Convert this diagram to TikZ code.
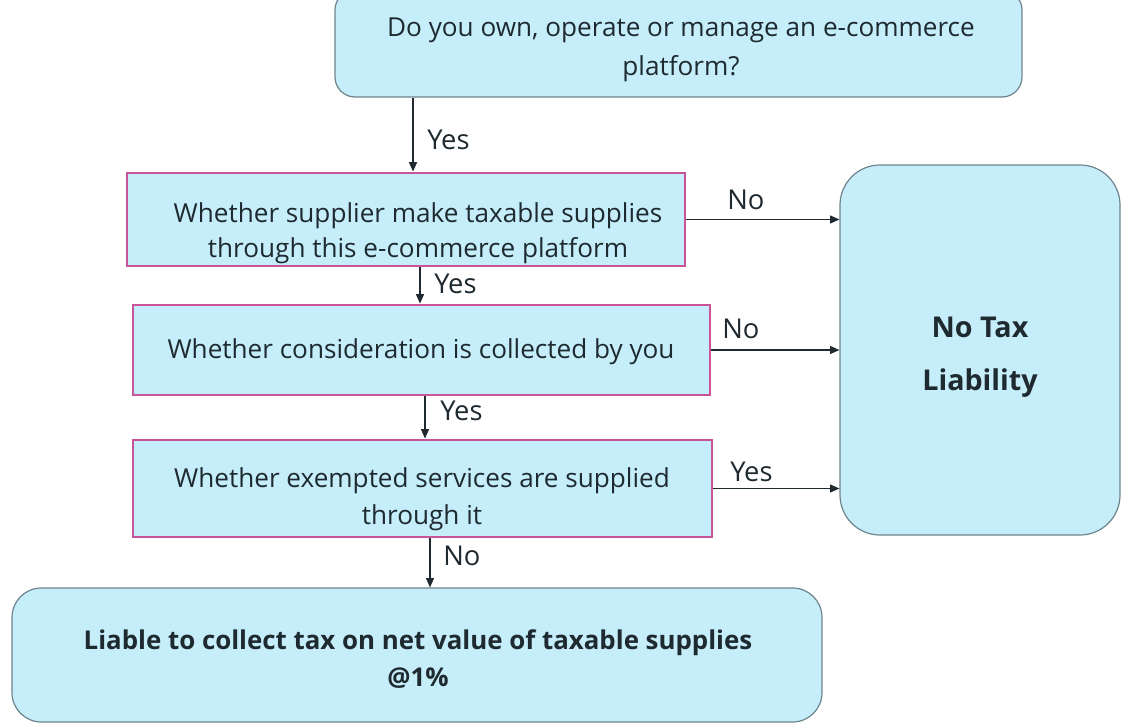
\documentclass[tikz,border=0pt]{standalone}
\usepackage{fontspec}
\setmainfont{Open Sans}
\usetikzlibrary{arrows.meta}
\definecolor{boxfill}{HTML}{C5EEFA}
\definecolor{greyline}{HTML}{6E848C}
\definecolor{pinkline}{HTML}{C9549A}
\definecolor{inkc}{HTML}{1E2A30}
\begin{document}
\begin{tikzpicture}[x=0.75pt,y=-0.75pt,
  txt/.style={font=\fontsize{19.6}{28}\selectfont, text=inkc, align=center, inner sep=0pt},
  boldtxt/.style={txt, font=\fontsize{19.4}{28}\selectfont\bfseries},
  roundbox/.style={draw=greyline, fill=boxfill, line width=0.9pt},
  pinkbox/.style={draw=pinkline, fill=boxfill, line width=2.2pt},
  arr/.style={-{Triangle[length=7pt,width=6pt]}, line width=0.8pt, draw=inkc},
  lbl/.style={font=\fontsize{20.5}{22}\selectfont, text=inkc, anchor=west, inner sep=0pt}]
\useasboundingbox (0,0) rectangle (1124,724);
\fill[white] (0,0) rectangle (1124,724);

% boxes
\node[roundbox, rounded corners=15pt, minimum width=515.25pt, minimum height=80.25pt] (q0) at (678.5,43.5) {};
\node[txt, font=\fontsize{19.6}{29}\selectfont] (q0t) at (681,50) {Do you own, operate or manage an e-commerce\\platform?};

\node[pinkbox, minimum width=418.5pt, minimum height=69.75pt] (q1) at (406,219.5) {};
\node[txt, font=\fontsize{19.6}{26}\selectfont] (q1t) at (418,233) {Whether supplier make taxable supplies\\through this e-commerce platform};

\node[pinkbox, minimum width=432.75pt, minimum height=67.5pt] (q2) at (421.5,350) {};
\node[txt] (q2t) at (421,352) {Whether consideration is collected by you};

\node[pinkbox, minimum width=434.25pt, minimum height=72.75pt] (q3) at (422.5,488.5) {};
\node[txt] (q3t) at (422,499) {Whether exempted services are supplied\\through it};

\node[roundbox, rounded corners=30pt, minimum width=210pt, minimum height=277.5pt] (nt) at (980,350) {};
\node[boldtxt, font=\fontsize{21.5}{40}\selectfont\bfseries] (ntt) at (980,357) {No Tax\\Liability};

\node[roundbox, rounded corners=22pt, minimum width=607.5pt, minimum height=100.5pt] (res) at (417,655) {};
\node[boldtxt] (rest) at (418,659) {Liable to collect tax on net value of taxable supplies\\@1\%};

% helper coordinates for vertical connectors
\coordinate (x1) at (413,0);
\coordinate (x2) at (420,0);
\coordinate (x3) at (425,0);
\coordinate (x4) at (430,0);

% vertical connectors
\draw[arr] (q0.south -| x1) -- (q1.north -| x1);
\draw[arr] (q1.south -| x2) -- (q2.north -| x2);
\draw[arr] (q2.south -| x3) -- (q3.north -| x3);
\draw[arr] (q3.south -| x4) -- (res.north -| x4);

% horizontal connectors
\draw[arr] (q1.east) -- (q1.east -| nt.west);
\draw[arr] (q2.east) -- (q2.east -| nt.west);
\draw[arr] (q3.east) -- (q3.east -| nt.west);

% labels
\node[lbl] (l1) at (427,140) {Yes};
\node[lbl] (l2) at (434,284) {Yes};
\node[lbl] (l3) at (440,411) {Yes};
\node[lbl] (l4) at (443,556) {No};
\node[lbl] (l5) at (727,200) {No};
\node[lbl] (l6) at (722,329) {No};
\node[lbl] (l7) at (730,472) {Yes};
\end{tikzpicture}
\end{document}
